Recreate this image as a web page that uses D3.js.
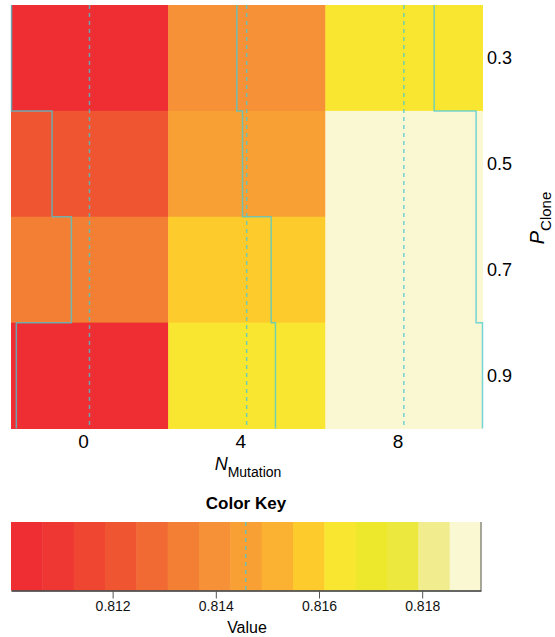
<!DOCTYPE html>
<html>
<head>
<meta charset="utf-8">
<script src="https://cdn.jsdelivr.net/npm/d3@7"></script>
<style>
  body { margin: 0; background: #fff; }
  svg { display: block; font-family: "Liberation Sans", Arial, sans-serif; }
</style>
</head>
<body>
<div class="chart"></div>
<script>
// data
var mutations = ["0", "4", "8"];            // columns, N_Mutation
var clones = ["0.3", "0.5", "0.7", "0.9"];  // rows, P_Clone (top to bottom)
// one array per column, values top row to bottom row
var col0 = [0.81006, 0.81241, 0.81353, 0.81034];
var col4 = [0.81401, 0.81434, 0.81600, 0.81625];
var col8 = [0.81634, 0.81877, 0.81877, 0.81914];
var keyMin = 0.81003, keyMax = 0.81914;
var vlineValue = 0.81458;
var keyTicks = [0.812, 0.814, 0.816, 0.818];
var palette = ["#EE2E33", "#EE3633", "#EF4631", "#F05532", "#F16A33",
               "#F27F33", "#F69137", "#F8A034", "#FBB233", "#FECB2C",
               "#F9E630", "#EDE82C", "#ECE83E", "#F1EC8E", "#FAF7D3"];

var columns = [col0, col4, col8];

var width = 555, height = 637;
var svg = d3.select(".chart").append("svg")
    .attr("width", width)
    .attr("height", height);

var x = d3.scaleBand().domain(mutations).range([11, 482.5]);
var y = d3.scaleBand().domain(clones).range([5, 428.5]);

// equal-width breaks like heatmap.2
var breaks = d3.range(1, palette.length).map(function (i) {
    return keyMin + i * (keyMax - keyMin) / palette.length;
});
var color = d3.scaleThreshold().domain(breaks).range(palette);

var cells = [];
columns.forEach(function (vals, ci) {
    vals.forEach(function (v, ri) {
        cells.push({ col: mutations[ci], row: clones[ri], value: v });
    });
});

svg.selectAll("rect.cell")
    .data(cells)
    .enter()
    .append("rect")
    .attr("class", "cell")
    .attr("x", function (d) { return x(d.col); })
    .attr("y", function (d) { return y(d.row); })
    .attr("width", x.bandwidth() + 0.5)
    .attr("height", y.bandwidth() + 0.5)
    .attr("fill", function (d) { return color(d.value); });

// trace lines
var inCol = d3.scaleLinear().domain([keyMin, keyMax]).range([0, x.bandwidth()]).clamp(true);
var traceCol = "rgba(72,200,214,0.75)";

columns.forEach(function (vals, ci) {
    var left = x(mutations[ci]);
    svg.append("line")
        .attr("x1", left + inCol(vlineValue))
        .attr("x2", left + inCol(vlineValue))
        .attr("y1", y.range()[0])
        .attr("y2", y.range()[1])
        .attr("stroke", traceCol)
        .attr("stroke-width", 1.5)
        .attr("stroke-dasharray", "4,4");

    var pts = [];
    vals.forEach(function (v, ri) {
        var px = left + inCol(v);
        pts.push([px, y(clones[ri])]);
        pts.push([px, y(clones[ri]) + y.bandwidth()]);
    });
    svg.append("path")
        .attr("d", d3.line()(pts))
        .attr("fill", "none")
        .attr("stroke", traceCol)
        .attr("stroke-width", 1.5);
});

// column labels
svg.selectAll("text.collab")
    .data(mutations)
    .enter()
    .append("text")
    .attr("class", "collab")
    .attr("x", function (d) { return x(d) + x.bandwidth() / 2 - 6; })
    .attr("y", 448)
    .attr("text-anchor", "middle")
    .attr("font-size", 19)
    .text(function (d) { return d; });

// row labels
svg.selectAll("text.rowlab")
    .data(clones)
    .enter()
    .append("text")
    .attr("class", "rowlab")
    .attr("x", 487)
    .attr("y", function (d) { return y(d) + y.bandwidth() / 2 + 6.5; })
    .attr("font-size", 18)
    .text(function (d) { return d; });

// axis titles
var xt = svg.append("text")
    .attr("x", 248)
    .attr("y", 470)
    .attr("text-anchor", "middle");
xt.append("tspan").attr("font-style", "italic").attr("font-size", 18).text("N");
xt.append("tspan").attr("font-size", 14).attr("dy", 7).text("Mutation");

var yt = svg.append("text")
    .attr("transform", "translate(544,218) rotate(-90)")
    .attr("text-anchor", "middle");
yt.append("tspan").attr("font-style", "italic").attr("font-size", 20).text("P");
yt.append("tspan").attr("font-size", 15).attr("dy", 7).text("Clone");

// color key
svg.append("text")
    .attr("x", 246)
    .attr("y", 509)
    .attr("text-anchor", "middle")
    .attr("font-size", 17)
    .attr("font-weight", "bold")
    .text("Color Key");

var kx = d3.scaleLinear().domain([keyMin, keyMax]).range([11, 481]);
var keyTop = 522, keyBottom = 590.5;
var edges = [keyMin].concat(breaks).concat([keyMax]);

svg.selectAll("rect.key")
    .data(palette)
    .enter()
    .append("rect")
    .attr("class", "key")
    .attr("x", function (d, i) { return kx(edges[i]); })
    .attr("y", keyTop)
    .attr("width", function (d, i) { return kx(edges[i + 1]) - kx(edges[i]) + 0.5; })
    .attr("height", keyBottom - keyTop)
    .attr("fill", function (d) { return d; });

svg.append("line")
    .attr("x1", kx(vlineValue)).attr("x2", kx(vlineValue))
    .attr("y1", keyTop).attr("y2", keyBottom)
    .attr("stroke", traceCol)
    .attr("stroke-width", 1.5)
    .attr("stroke-dasharray", "4,4");

svg.append("line")
    .attr("x1", 481).attr("x2", 481)
    .attr("y1", keyTop).attr("y2", keyBottom)
    .attr("stroke", "#555")
    .attr("stroke-width", 1);

var kaxis = svg.append("g")
    .attr("transform", "translate(0," + keyBottom + ")")
    .call(d3.axisBottom(kx).tickValues(keyTicks).tickSize(8).tickPadding(3)
        .tickFormat(d3.format(".3f")).tickSizeOuter(0));
kaxis.select(".domain").attr("stroke", "#333").attr("stroke-width", 1.5);
kaxis.selectAll(".tick line").attr("stroke", "#555");
kaxis.selectAll("text")
    .attr("font-size", 14)
    .attr("font-family", "Liberation Sans, Arial, sans-serif")
    .attr("fill", "#111");

svg.append("text")
    .attr("x", 247)
    .attr("y", 633)
    .attr("text-anchor", "middle")
    .attr("font-size", 16)
    .text("Value");
</script>
</body>
</html>
